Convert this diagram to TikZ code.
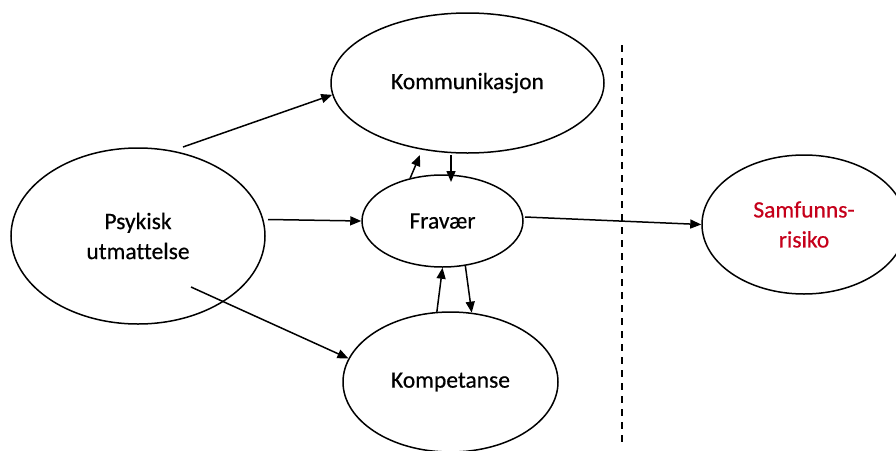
\documentclass[tikz,border=0pt]{standalone}
\usepackage{fontspec}
\setmainfont{Carlito}[Ligatures={NoCommon}, FakeBold=0.5]
\usetikzlibrary{shapes.geometric,arrows.meta}
\definecolor{riskred}{HTML}{C5001A}
\tikzset{
  oval/.style={ellipse, draw=black, line width=1.5pt, inner sep=0pt, align=center,
    font=\fontsize{23.5}{30}\selectfont},
  conn/.style={line width=1.5pt, -{Triangle[length=11pt,width=9pt]}},
  divider/.style={line width=1.5pt, dash pattern=on 7pt off 6pt}
}
\begin{document}
\begin{tikzpicture}[x=1pt,y=-1pt]
\useasboundingbox (0,0) rectangle (896,450);
\clip (0,0) rectangle (896,450);
% nodes
\node[oval, minimum width=273pt, minimum height=140pt] (kom) at (467.5,83) {Kommunikasjon};
\node[oval, minimum width=254pt, minimum height=176pt] (psy) at (138,236) {Psykisk\\utmattelse};
\node[oval, minimum width=161pt, minimum height=92pt] (fra) at (442.5,221) {Fravær};
\node[oval, minimum width=204pt, minimum height=139pt, text=riskred] (sam) at (804,224.5) {Samfunns-\\risiko};
\node[oval, minimum width=215pt, minimum height=140pt] (kpt) at (450.5,382) {Kompetanse};
% free ends
\coordinate (p1) at (183,147);
\coordinate (p2) at (268,219.5);
\coordinate (p3) at (191,287);
\coordinate (k2) at (420,155);
\coordinate (k1s) at (451,155);
\coordinate (f1e) at (451,182);
\coordinate (f2) at (525,217);
\coordinate (dtop) at (622,45);
\coordinate (dbot) at (622,443);
% connectors
\draw[conn] (p1) -- (kom.185);
\draw[conn] (p2) -- (fra.west);
\draw[conn] (p3) -- (kpt.167);
\draw[conn] (fra.127) -- (k2);
\draw[conn] (k1s) -- (f1e);
\draw[conn] (f2) -- (sam.west);
\draw[conn] (kpt.101) -- (fra.south);
\draw[conn] (fra.-63) -- (kpt.73);
\draw[divider] (dtop) -- (dbot);
\end{tikzpicture}
\end{document}
